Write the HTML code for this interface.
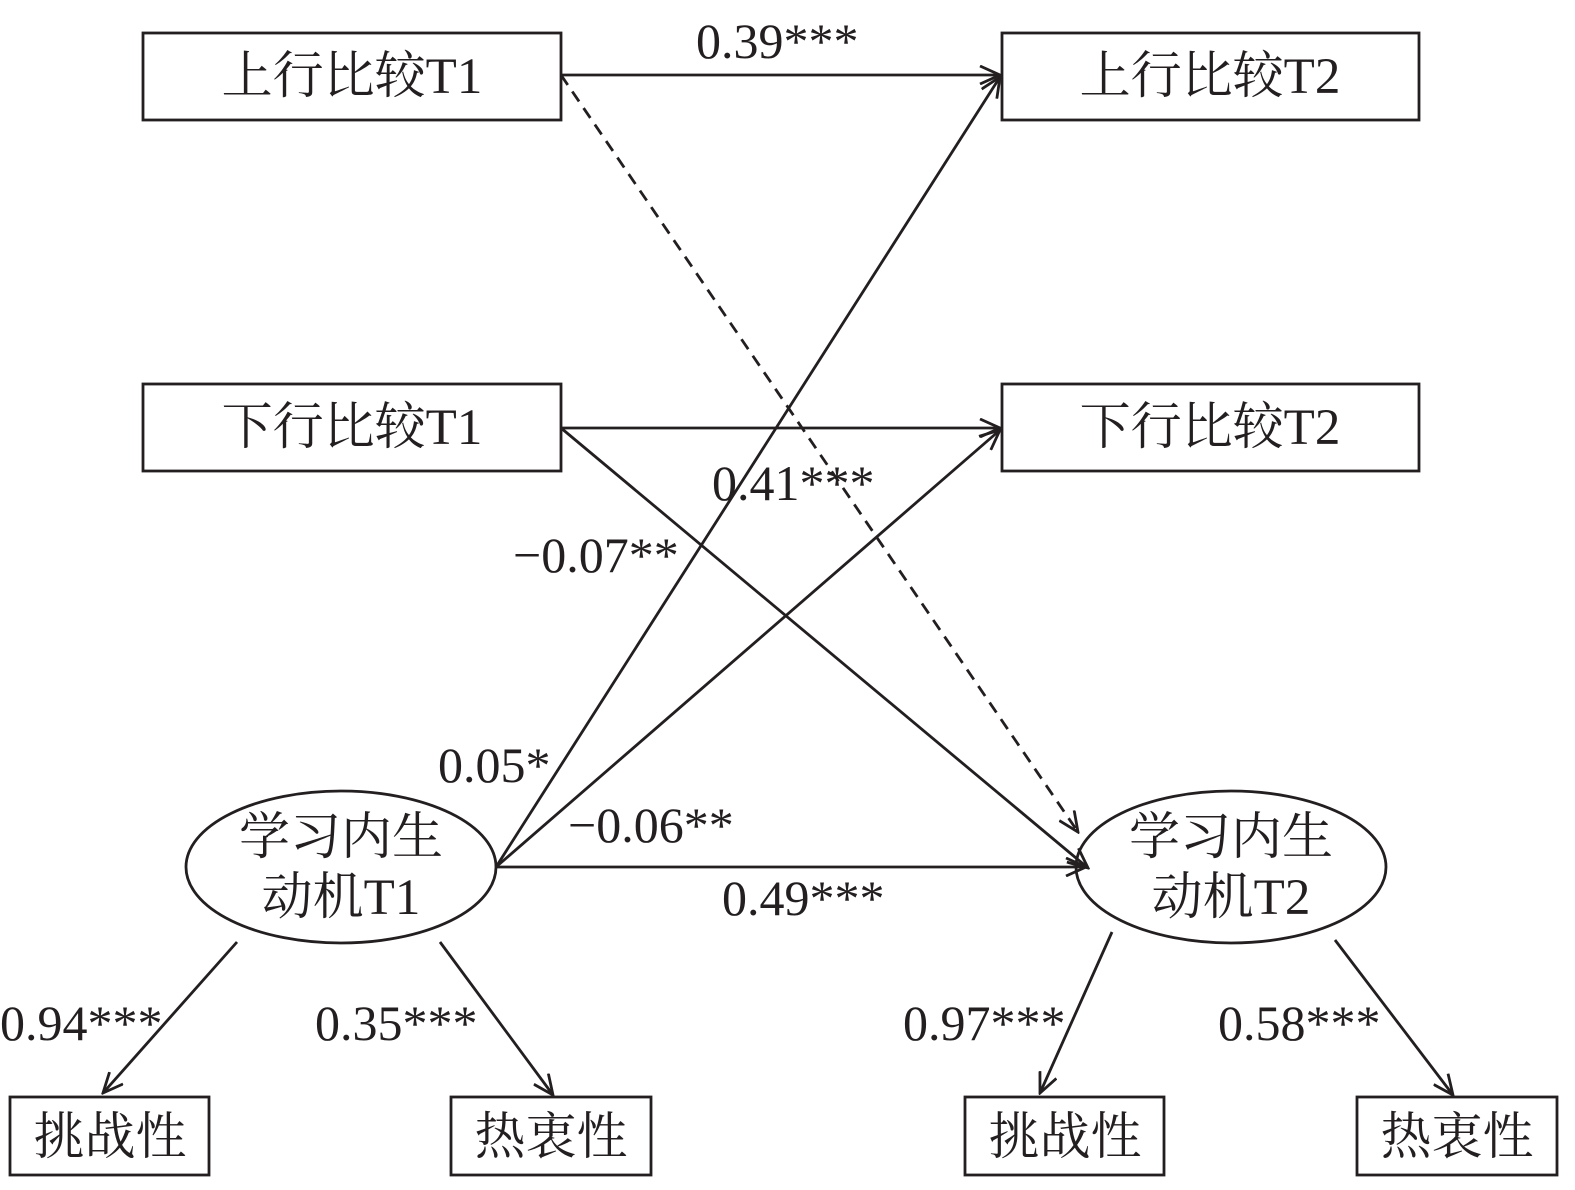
<!DOCTYPE html>
<html><head><meta charset="utf-8"><style>
html,body{margin:0;padding:0;background:#fff;}
svg text{font-family:"Liberation Serif","Noto Serif CJK SC",serif;fill:#231f20;}
.cn{font-size:51px;}
.lb{font-size:50px;}
</style></head><body>
<svg width="1575" height="1185" viewBox="0 0 1575 1185" xmlns="http://www.w3.org/2000/svg">
<defs>
<marker id="a" viewBox="0 0 24 20" refX="22" refY="10" markerWidth="24" markerHeight="20" markerUnits="userSpaceOnUse" orient="auto">
<polyline points="2,1 22,10 2,19" fill="none" stroke="#231f20" stroke-width="2.8"/>
</marker>
</defs>
<g fill="none" stroke="#231f20" stroke-width="2.8">
<rect x="143" y="33" width="418" height="87"/>
<rect x="1002" y="33" width="417" height="87"/>
<rect x="143" y="384" width="418" height="87"/>
<rect x="1002" y="384" width="417" height="87"/>
<ellipse cx="341" cy="867" rx="155" ry="76"/>
<ellipse cx="1231" cy="867" rx="155" ry="76"/>
<rect x="10" y="1097" width="199" height="78"/>
<rect x="451" y="1097" width="200" height="78"/>
<rect x="965" y="1097" width="199" height="78"/>
<rect x="1357" y="1097" width="200" height="78"/>
<line x1="561" y1="75" x2="1000" y2="75" marker-end="url(#a)"/>
<line x1="561" y1="75" x2="1078" y2="832" stroke-dasharray="12,8" marker-end="url(#a)"/>
<line x1="561" y1="428" x2="1000" y2="428" marker-end="url(#a)"/>
<line x1="561" y1="428" x2="1088" y2="868" marker-end="url(#a)"/>
<line x1="496" y1="867" x2="1000" y2="77" marker-end="url(#a)"/>
<line x1="496" y1="867" x2="1000" y2="430" marker-end="url(#a)"/>
<line x1="496" y1="867" x2="1086" y2="867" marker-end="url(#a)"/>
<line x1="237" y1="942" x2="103" y2="1093" marker-end="url(#a)"/>
<line x1="440" y1="942" x2="553" y2="1095" marker-end="url(#a)"/>
<line x1="1112" y1="932" x2="1040" y2="1093" marker-end="url(#a)"/>
<line x1="1335" y1="940" x2="1453" y2="1095" marker-end="url(#a)"/>
</g>
<g class="cn" text-anchor="middle">
<text x="352" y="93">上行比较T1</text>
<text x="1210" y="93">上行比较T2</text>
<text x="352" y="444">下行比较T1</text>
<text x="1210" y="444">下行比较T2</text>
<text x="341" y="854">学习内生</text>
<text x="341" y="914">动机T1</text>
<text x="1231" y="854">学习内生</text>
<text x="1231" y="914">动机T2</text>
<text x="110" y="1154">挑战性</text>
<text x="551" y="1154">热衷性</text>
<text x="1065" y="1154">挑战性</text>
<text x="1457" y="1154">热衷性</text>
</g>
<g class="lb">
<text x="696" y="58">0.39***</text>
<text x="712" y="500">0.41***</text>
<text x="513" y="572">−0.07**</text>
<text x="438" y="782">0.05*</text>
<text x="568" y="842">−0.06**</text>
<text x="722" y="915">0.49***</text>
<text x="0" y="1040">0.94***</text>
<text x="315" y="1040">0.35***</text>
<text x="903" y="1040">0.97***</text>
<text x="1218" y="1040">0.58***</text>
</g>
</svg>
</body></html>
